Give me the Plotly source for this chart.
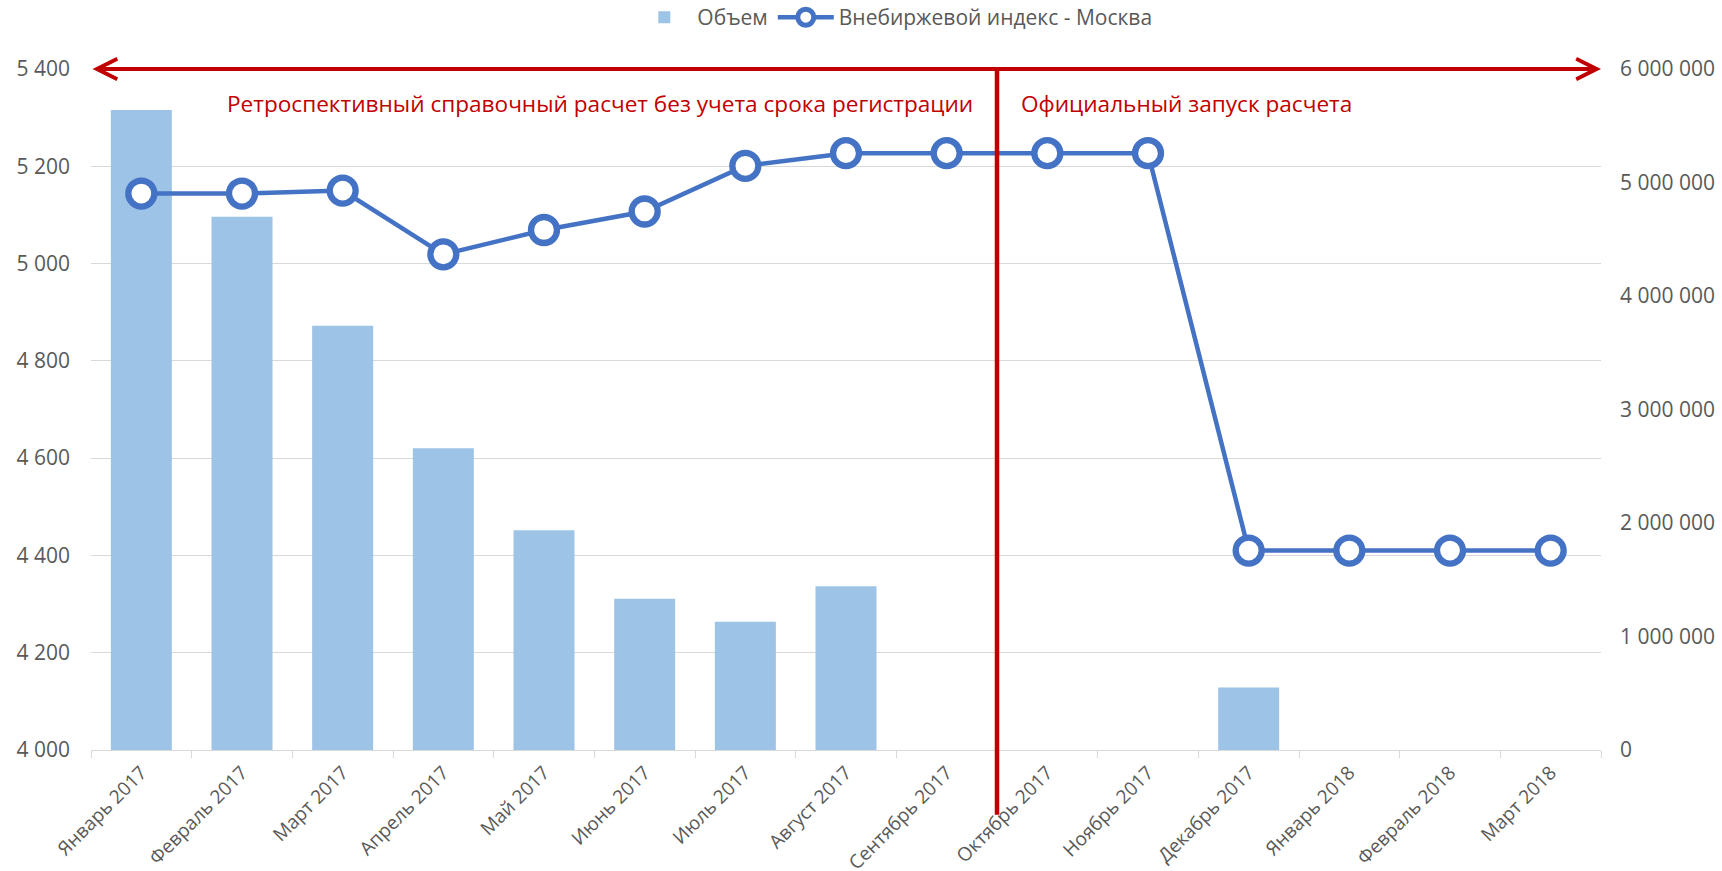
import plotly.graph_objects as go

months = ["Январь 2017", "Февраль 2017", "Март 2017", "Апрель 2017", "Май 2017",
          "Июнь 2017", "Июль 2017", "Август 2017", "Сентябрь 2017", "Октябрь 2017",
          "Ноябрь 2017", "Декабрь 2017", "Январь 2018", "Февраль 2018", "Март 2018"]
volume = [5639000, 4698000, 3737000, 2659000, 1936000, 1333000, 1130000, 1442000,
          0, 0, 0, 551000, 0, 0, 0]
index_msk = [5144, 5144, 5150, 5019, 5069, 5107, 5201, 5227, 5227, 5227, 5227,
             4410, 4410, 4410, 4410]

left_range = [4000, 5400]
right_range = [0, 6000000]
split_pos = 8.5
text_left = "Ретроспективный справочный расчет без учета срока регистрации"
text_right = "Официальный запуск расчета"

RED = "#C00000"
BLUE = "#4472C4"
BAR = "#9DC3E6"
GRAY = "#595959"
GRID = "#D9D9D9"
FONT = "Open Sans"

fig = go.Figure()
fig.add_trace(go.Bar(x=months, y=volume, name="Объем", marker_color=BAR,
                     marker_line_width=0, width=0.606, yaxis="y"))
fig.add_trace(go.Scatter(x=months, y=index_msk, name="Внебиржевой индекс - Москва",
                         mode="lines+markers", yaxis="y2",
                         line=dict(color=BLUE, width=4.5),
                         marker=dict(size=26, color="white", line=dict(color=BLUE, width=6.3))))

fig.update_layout(
    width=1722, height=871,
    margin=dict(l=91, r=121, t=69, b=121, autoexpand=False),
    paper_bgcolor="white", plot_bgcolor="white",
    separators=". ",
    font=dict(family=FONT, color=GRAY, size=18),
    showlegend=True,
    legend=dict(orientation="h", x=0.532, xanchor="center", y=1.0755, yanchor="middle",
                font=dict(size=21, color=GRAY), itemwidth=56, traceorder="normal"),
    xaxis=dict(type="category", tickangle=-45, ticks="outside", tickson="boundaries",
               ticklen=7, tickcolor=GRID, tickwidth=1.3, showline=True, linecolor=GRID,
               linewidth=1.3, showgrid=False, tickfont=dict(size=19, color=GRAY),
               ticklabelstandoff=3, range=[-0.5, 14.5]),
    yaxis=dict(side="right", range=right_range, dtick=1000000, showgrid=False,
               zeroline=False, tickformat=",d", tickfont=dict(size=21, color=GRAY),
               ticklabelstandoff=18),
    yaxis2=dict(side="left", overlaying="y", range=left_range, dtick=200,
                showgrid=True, gridcolor=GRID, gridwidth=1.3, zeroline=False,
                tickformat=",d", tickfont=dict(size=21, color=GRAY),
                ticklabelstandoff=20),
    bargap=0.39,
)

fig.add_shape(type="line", xref="x", yref="paper", x0=split_pos, x1=split_pos,
              y0=-0.095, y1=1, line=dict(color=RED, width=4.5))

fig.add_annotation(x=14.5, y=5400, xref="x", yref="y2", ax=-0.5, ay=5400,
                   axref="x", ayref="y2", text="", showarrow=True,
                   arrowside="start+end", arrowhead=5, startarrowhead=5,
                   arrowsize=1, startarrowsize=1, arrowwidth=4, arrowcolor=RED,
                   standoff=0, startstandoff=0)

fig.add_annotation(x=split_pos, y=5330, xref="x", yref="y2", text=text_left,
                   showarrow=False, xanchor="right", yanchor="middle", xshift=-22,
                   font=dict(size=22.6, color=RED, family=FONT))
fig.add_annotation(x=split_pos, y=5330, xref="x", yref="y2", text=text_right,
                   showarrow=False, xanchor="left", yanchor="middle", xshift=22,
                   font=dict(size=22.6, color=RED, family=FONT))

fig.write_html("out.html", config={"displayModeBar": False},
               post_script="document.body.style.margin='0';document.body.style.overflow='hidden';")
